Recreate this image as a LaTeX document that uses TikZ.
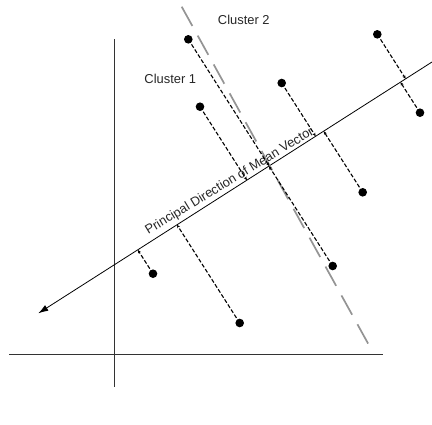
\documentclass[tikz,border=0pt]{standalone}
\usepackage{fontspec}
\setmainfont{Liberation Sans}
\usetikzlibrary{arrows.meta,calc}
\begin{document}
\begin{tikzpicture}[x=1pt,y=1pt,
  axis/.style={line width=0.9pt,draw=black!80},
  mainline/.style={line width=0.8pt,draw=black},
  dot/.style={circle,fill=black,inner sep=0pt,minimum size=8.6pt},
  proj/.style={line width=1.1pt,dash pattern=on 4pt off 2pt,-{Stealth[length=3.5pt,width=3pt]}},
  clusterline/.style={line width=1.7pt,draw=black!42,dash pattern=on 22pt off 11pt},
  lbl/.style={font=\fontsize{12.9}{15}\selectfont,text=black!85,inner sep=0pt}]
\useasboundingbox (0,0) rectangle (432,-424);
% axes
\coordinate (vt) at (114.7,-39.3);
\coordinate (vb) at (114.7,-387.3);
\coordinate (hl) at (9.3,-354);
\coordinate (hr) at (382.7,-354);
\draw[axis] (vt) -- (vb);
\draw[axis] (hl) -- (hr);
% principal direction
\coordinate (pa) at (38.3,-313.3);
\coordinate (pb) at (432,-62);
\draw[mainline,{Latex[length=10pt,width=6.5pt]}-] (pa) -- (pb);
\node[lbl,rotate=31.3,anchor=base west] (plbl) at (148.3,-235) {Principal Direction of Mean Vector};
% cluster separator
\coordinate (ca) at (181.7,-6.7);
\coordinate (cb) at (368.5,-344.3);
\draw[clusterline] (ca) -- (cb);
% labels
\node[lbl] (c2) at (243.8,-20) {Cluster 2};
\node[lbl] (c1) at (170.3,-79) {Cluster 1};
% points
\foreach \n/\x/\y in {p1/188.3/39.3, p2/377.3/34.3, p3/281.7/83, p4/200/106.7, p5/420/112.7, p6/362.7/192.3, p7/332.7/266, p8/153/273.7, p9/239.7/323}{
  \node[dot] (\n) at (\x,-\y) {};
  \coordinate (f\n) at ($(pa)!(\n.center)!(pb)$);
  \draw[proj] (\n.center) -- (f\n);
}
\end{tikzpicture}
\end{document}
